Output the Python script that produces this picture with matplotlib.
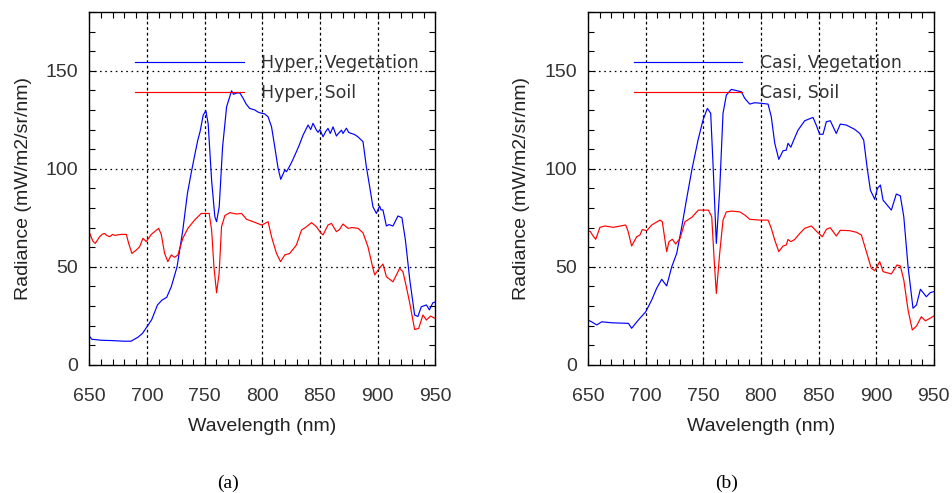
import numpy as np
import matplotlib
matplotlib.use('Agg')
import matplotlib.pyplot as plt
from matplotlib.ticker import MultipleLocator

# Hyper (a)
hyper_veg_wl = [650, 652, 660, 670, 680, 686, 689, 692, 696, 699, 704, 709, 713, 717, 721, 726, 731, 735,
                738, 741, 744, 746, 748.7, 751, 753, 756, 758.8, 760.3, 762.6, 765.5, 769, 773.3, 775, 778,
                780.5, 783.4, 786, 789, 793.5, 796, 799.3, 802, 805, 808, 810.8, 813.7, 816, 819.5, 821,
                823.8, 826, 829.6, 832, 835.4, 839.7, 842, 844, 847, 848.4, 850, 852.7, 855, 857, 859,
                861.4, 864.3, 866, 868.7, 870, 873, 875, 877.3, 880, 883, 887.4, 890.3, 893.2, 896, 899,
                901.8, 903, 904.7, 907.7, 910, 913.4, 917.7, 921.2, 924.2, 928, 932.2, 935, 938, 940,
                942.4, 945, 948, 950]
hyper_veg = [14.5, 13, 12.5, 12.3, 12, 12, 13, 14, 16, 18.6, 23, 30.5, 33, 34.4, 39.8, 50, 68.7, 87.4,
             97, 106, 114.6, 119, 127.4, 129.6, 123, 94, 75.5, 73, 80.6, 111, 131.6, 139.8, 138, 138.7,
             138.7, 135.9, 133, 130.8, 130, 129, 128.3, 128, 126.5, 121.4, 111.2, 100.2, 94.6, 99.3, 98.5,
             101.4, 104, 108.7, 112, 117.2, 122.3, 120, 123.2, 119.7, 118.6, 120, 116.3, 119, 120.6, 118,
             121.4, 116.7, 118, 119.7, 118, 120.7, 118.5, 118, 117.5, 116.3, 113.8, 101, 90.8, 80.6, 77.2,
             81, 79, 79, 70.8, 71.5, 70.8, 75.9, 75, 63.6, 43.2, 25.4, 24.6, 29.6, 30, 30.5, 28, 31.6, 32]

hyper_soil_wl = [650, 653, 655, 658.8, 661, 663, 665, 667.5, 670, 672, 675, 677.6, 682, 684, 686.8, 690.6,
                 693.5, 696.4, 699.3, 703.6, 706.5, 710, 712.3, 715.2, 718, 721, 723.9, 726.7, 731, 735.4,
                 741.2, 747, 753.9, 756, 758, 760.3, 762.5, 764.6, 767.5, 771.8, 777.6, 782, 786.3, 792,
                 799.3, 802, 805, 808, 812.3, 815.8, 819.5, 823.8, 829.6, 834, 838.3, 842.7, 847, 849.9,
                 852.7, 857, 860, 864.3, 867, 870, 874.4, 878, 883, 887.4, 891.7, 896, 897.6, 900.4, 904.7,
                 907.7, 913.4, 919.2, 922, 925, 928, 932.2, 935.7, 939.4, 942.4, 946, 950]
hyper_soil = [67.3, 63, 61.9, 65.3, 66.5, 67, 66, 65.3, 66.5, 66, 66.3, 66.5, 66.5, 61.9, 56.8, 58.5,
              60.2, 64.5, 62.8, 66.5, 67.9, 69.6, 66.5, 56.8, 52.6, 56, 54.8, 56, 64.5, 69.6,
              73.8, 77.2, 77.2, 68.7, 50, 36.7, 46.6, 70.4, 76.1, 77.6, 76.9, 77.2, 74.2, 73,
              71.3, 72, 73, 65.3, 56.8, 52.6, 56, 56.8, 61.1, 68.7, 70.4, 72.5, 70.4, 67.9,
              66.2, 71.3, 72.1, 67.9, 69, 71.8, 69.6, 70, 69.6, 67.3, 60.2, 49.2, 45.8, 48.3, 51.4,
              44.9, 42.3, 49.2, 47.5, 39.8, 31.3, 18, 18.5, 25.4, 22.8, 24.8, 23.6]

# Casi (b)
casi_veg_wl = [650, 653, 657.5, 661.8, 670.5, 685, 687.8, 693.6, 700, 705.2, 709.5, 713.9, 718.2, 722.6,
               726.9, 731.3, 735.6, 740, 745.4, 749.7, 753.5, 756.4, 758.4, 761.3, 764.2, 767.1, 770,
               774.3, 783, 786, 790.3, 794.6, 800.4, 806.2, 809, 812, 815.5, 819.2, 822, 823.5, 826, 828,
               832.2, 838, 845.2, 848, 851, 853.9, 856.8, 860.2, 865.4, 868.9, 874.1, 881.4, 885.8, 889.2,
               892.1, 895, 898.8, 901.1, 903.7, 906, 913.2, 917.5, 921, 924, 927.7, 932, 935, 938.4,
               943.6, 947, 950]
casi_veg = [22.8, 21.9, 20.3, 21.9, 21.4, 21.1, 18.6, 22.8, 27, 33, 39, 43.6, 40.2, 50,
            56.8, 70.4, 84.9, 99.3, 114.6, 124.8, 130.8, 128.3, 102.8, 61.9, 89.1, 128.3, 137.6,
            140.5, 139.3, 135.9, 133, 133.7, 133.4, 133, 126.5, 113, 104.8, 109.2, 109.5, 113, 111, 114,
            119.7, 124.5, 126.2, 122.3, 117.6, 117.6, 124, 124.5, 118, 122.8, 122.3, 120.1, 118, 114.6,
            101, 89.1, 84.4, 90, 91.7, 84, 78.9, 87.1, 86.2, 75.5, 50, 28.8, 30.5, 38.5,
            34.7, 36.8, 37.3]

casi_soil_wl = [650, 652, 654, 656.6, 660.3, 664.7, 671.9, 682.6, 684.4, 687.8, 692.2, 695, 697, 700.9,
                705.2, 712.4, 714.4, 718.2, 720.2, 723.1, 726, 729.8, 734.1, 740, 745.7, 754.4, 757.3,
                759.6, 761.3, 764.2, 767.1, 770, 774.8, 781.6, 786, 790.3, 799, 806.2, 809, 812, 815.5,
                819.2, 822, 823.5, 826, 829.3, 833.7, 838, 843.8, 849.6, 853.3, 856.8, 860.2, 865.4,
                868.9, 877, 882.8, 887.2, 891.5, 895.8, 898.8, 903.1, 906, 913.2, 918.1, 921, 924, 927.7,
                931.4, 935, 939.2, 942.7, 946.5, 950]
casi_soil = [68.4, 67.9, 66, 64, 70.1, 70.8, 70.1, 71.3, 68.7, 60.6, 65.3, 66.2, 69, 68.4,
             71.3, 73.8, 73, 57.7, 62.8, 64, 61.6, 64.5, 73, 75.2, 78.9, 78.9, 75.5,
             51.7, 36.4, 56.8, 73.8, 78, 78.4, 78, 76.4, 74.2, 73.8, 73.8, 69.6, 63.6, 57.7,
             60.6, 61.1, 63.9, 62.8, 63.9, 67, 69.6, 70.8, 67.3, 65.3, 69.1, 69.9, 65.7,
             68.6, 68.4, 67.6, 66.2, 57.7, 49.2, 48, 52.6, 47.5, 46.3, 50.9, 50.4, 43.2, 27.9,
             17.7, 19.7, 24.5, 22.4, 23.6, 24.8]

panels = [
    ('Hyper', hyper_veg_wl, hyper_veg, hyper_soil_wl, hyper_soil, '(a)'),
    ('Casi', casi_veg_wl, casi_veg, casi_soil_wl, casi_soil, '(b)'),
]
lefts = [0.0939, 0.6171]

fig = plt.figure(figsize=(9.53, 4.93), dpi=100)
for i, (name, vwl, veg, swl, soil, tag) in enumerate(panels):
    ax = fig.add_axes([lefts[i], 0.2602, 0.3627, 0.7155])
    ax.plot(vwl, veg, color='#0000ff', lw=0.85, label=name + ', Vegetation')
    ax.plot(swl, soil, color='#ff0000', lw=0.85, label=name + ', Soil')
    ax.set_xlim(650, 950)
    ax.set_ylim(0, 180)
    ax.xaxis.set_major_locator(MultipleLocator(50))
    ax.xaxis.set_minor_locator(MultipleLocator(10))
    ax.yaxis.set_major_locator(MultipleLocator(50))
    ax.yaxis.set_minor_locator(MultipleLocator(10))
    # dotted grid, only inner lines
    for x in [700, 750, 800, 850, 900]:
        ax.axvline(x, color='black', lw=0.9, ls=(0, (2.2, 2.2)), zorder=0)
    for y in [50, 100, 150]:
        ax.axhline(y, color='black', lw=0.9, ls=(0, (1.3, 2.9)), zorder=0)
    ax.tick_params(which='both', direction='in', top=True, right=True, width=0.8)
    ax.tick_params(which='major', length=5)
    ax.tick_params(which='minor', length=4)
    ax.tick_params(axis='x', pad=17, labelsize=14, labelcolor='#333333')
    ax.tick_params(axis='y', pad=8, labelsize=14, labelcolor='#333333')
    for lab in ax.get_xticklabels() + ax.get_yticklabels():
        lab.set_fontfamily('Liberation Sans')
    ax.get_yticklabels()[0].set_va('bottom')
    for s in ax.spines.values():
        s.set_linewidth(1.0)
    ax.set_xlabel('Wavelength (nm)', fontsize=14, family='Liberation Sans', color='#222222', labelpad=9)
    ax.set_ylabel('Radiance (mW/m2/sr/nm)', fontsize=14, family='Liberation Sans', color='#222222',
                  labelpad=10)
    leg = ax.legend(loc='upper left', bbox_to_anchor=(0.1317, 0.882), frameon=False, fontsize=12.5,
                    handlelength=6.27, handletextpad=1.0, labelspacing=0.72, borderpad=0, borderaxespad=0)
    for t in leg.get_texts():
        t.set_color('#333333')
    ax.text(0.401, -0.335, tag, transform=ax.transAxes, ha='center', va='center', fontsize=14,
            family='Liberation Serif')

plt.savefig('out.png', dpi=100)
